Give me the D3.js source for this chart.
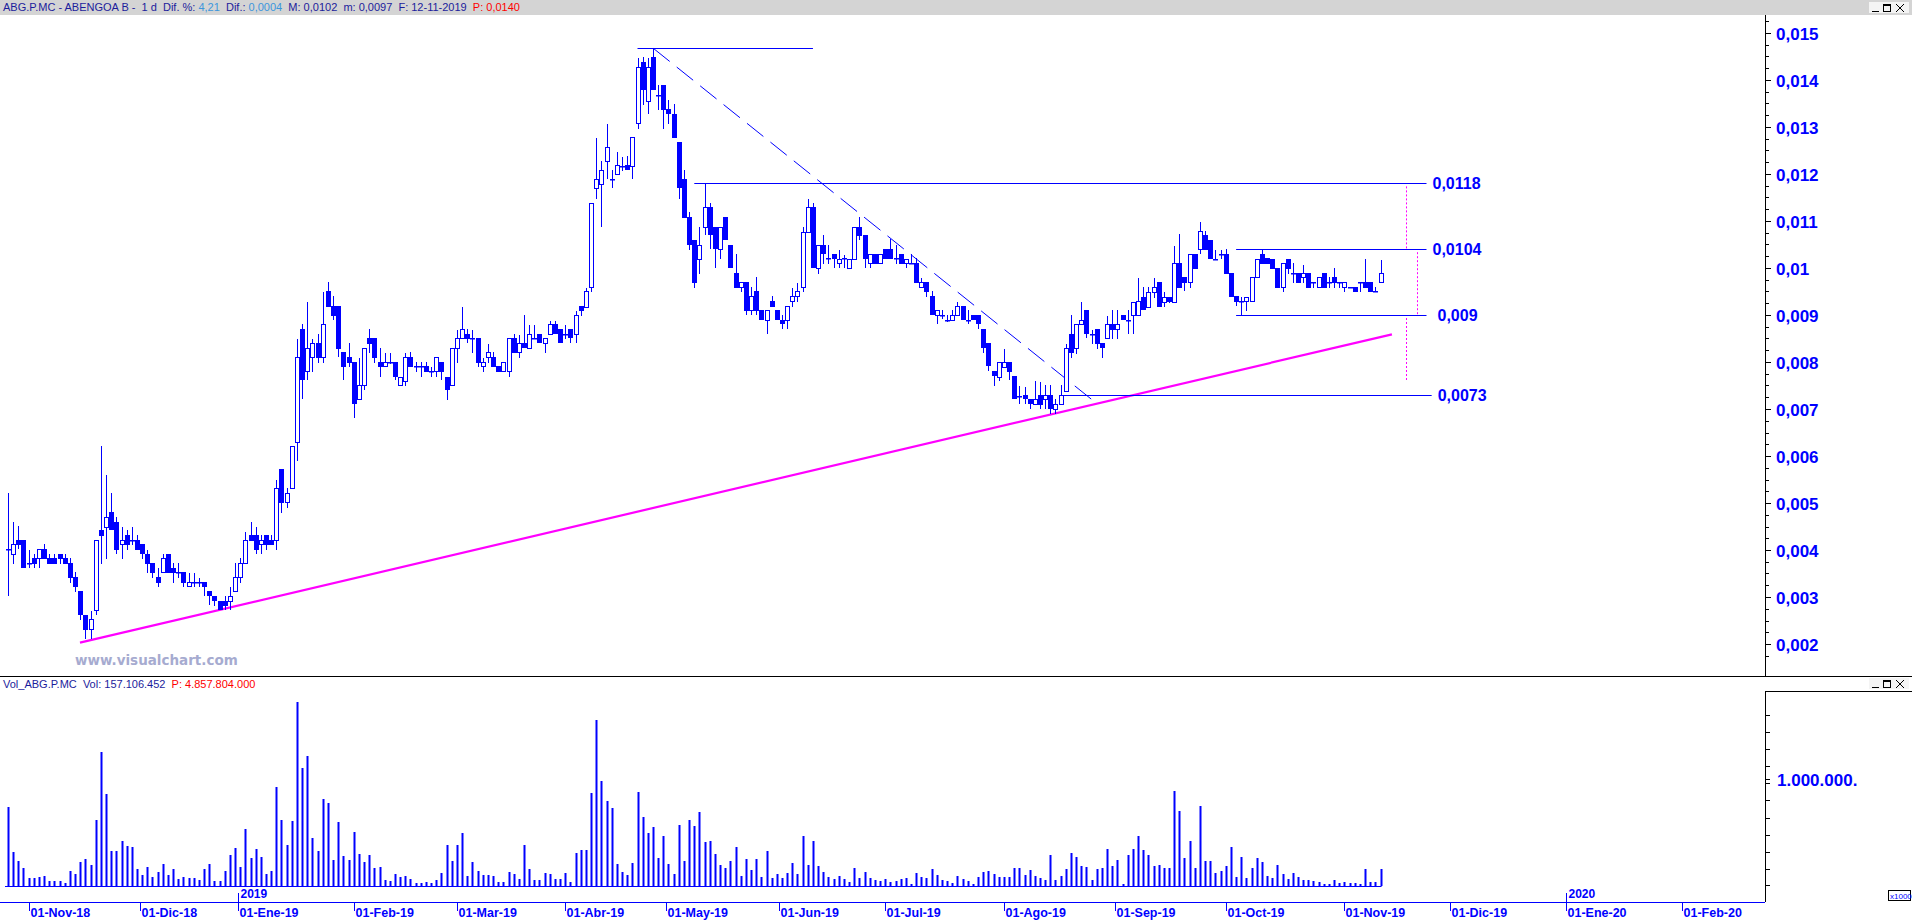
<!DOCTYPE html>
<html><head><meta charset="utf-8">
<script src="https://cdn.jsdelivr.net/npm/d3@7"></script>
<style>
html,body{margin:0;padding:0;background:#fff;overflow:hidden}
svg{display:block}
text{white-space:pre}
</style></head><body>
<svg id="c" width="1912" height="922"></svg>
<script>
// ---------------- DATA ----------------
const opens = [
.004014,.003908,.004205,.004205,.003716,.003822,.003822,.004014,.003822,.003822,
.003908,.003822,.003716,.003418,.003127,.002617,.002312,.002716,.004425,.004496,
.004801,.004603,.004120,.004312,.004205,.004205,.004120,.003908,.003716,.003432,
.003525,.003908,.003610,.003525,.003525,.003234,.003326,.003326,.003326,.003127,
.003021,.002915,.002915,.002915,.003127,.003418,.003716,.004312,.004312,.004120,
.004312,.004205,.004205,.005716,.005014,.005312,.006305,.008702,.007808,.008099,
.008397,.008099,.009510,.009191,.009191,.008205,.008099,.008000,.007206,.007504,
.008504,.008504,.007993,.007908,.007993,.007993,.007504,.007603,.008099,.007908,
.007908,.007908,.007816,.007809,.007993,.007688,.007504,.008291,.008504,.008596,
.008504,.008504,.007908,.008099,.008099,.007908,.007809,.007809,.008504,.008206,
.008397,.008291,.008504,.008596,.008397,.008596,.008802,.008702,.008596,.008702,
.008596,.009192,.009177,.009589,.011695,.011780,.012284,.011887,.011993,.012177,
.012191,.012177,.013078,.014376,.013560,.014482,.013681,.013894,.013383,.013277,
.012681,.011887,.011078,.010596,.010184,.010880,.011291,.010880,.010397,.011078,
.010489,.009887,.009589,.009695,.009106,.009511,.009106,.008894,.009298,.009106,
.008894,.008894,.009298,.009404,.009589,.010773,.011291,.010007,.010489,.010206,
.010298,.010099,.010206,.009993,.010184,.010880,.010702,.010099,.010291,.010099,
.010397,.010397,.010206,.010291,.010099,.010099,.010114,.009589,.009695,.009411,
.009000,.009000,.008894,.008894,.009000,.009192,.008894,.009000,.009000,.008702,
.008397,.007816,.007688,.007887,.007993,.007702,.007284,.007298,.007213,.007106,
.007298,.007206,.007298,.006993,.007106,.007390,.008589,.008291,.008801,.009106,
.008596,.008695,.008397,.008504,.008801,.008695,.009000,.008894,.009000,.009000,
.009390,.009177,.009496,.009709,.009284,.009390,.009284,.010099,.009801,.009695,
.010298,.010404,.010702,.010596,.010191,.010298,.010298,.009901,.009404,.009305,
.009298,.009298,.009801,.010298,.010206,.010184,.009993,.009589,.010184,.009901,
.009901,.009801,.009901,.009695,.009589,.009887,.009695,.009801,.009695,.009589,
.009589,.009589,.009695,.009695,.009695,.009518,.009695];
const highs = [
.005205,.004603,.004510,.004205,.004000,.003915,.004014,.004120,.003915,.003915,
.003908,.003915,.003822,.003525,.003127,.002617,.002702,.004205,.006213,.005596,
.005220,.004709,.004496,.004425,.004496,.004312,.004120,.004000,.003716,.003610,
.003908,.003908,.003716,.003716,.003525,.003503,.003503,.003397,.003326,.003127,
.003021,.002915,.003021,.003220,.003716,.003822,.004390,.004603,.004496,.004312,
.004312,.004312,.005489,.005716,.005312,.006213,.008489,.008808,.009269,.008489,
.008596,.009482,.009695,.009404,.009191,.008205,.008397,.008000,.008078,.008291,
.008702,.008504,.008291,.008184,.008184,.007993,.007688,.008184,.008206,.007993,
.007993,.007993,.007901,.008099,.007993,.007688,.008291,.008681,.009177,.008702,
.008681,.008504,.008078,.008383,.008206,.007908,.007993,.008504,.008596,.008575,
.009000,.008787,.008787,.008596,.008504,.008880,.008880,.008702,.008787,.008702,
.009085,.009192,.009568,.011376,.012773,.012277,.013057,.012085,.012461,.012369,
.012383,.012780,.014475,.014497,.014475,.014674,.013894,.013894,.013575,.013490,
.012681,.012085,.011199,.010596,.010880,.011787,.011390,.010880,.010880,.011078,
.010489,.010298,.009695,.009695,.009603,.009816,.009106,.009106,.009404,.009106,
.009000,.009192,.009568,.009674,.010865,.011468,.011390,.010489,.010702,.010489,
.010298,.010383,.010277,.010184,.010880,.011092,.010702,.010291,.010291,.010291,
.010397,.010610,.010489,.010291,.010184,.010298,.010206,.009794,.009695,.009511,
.009106,.009106,.009000,.009106,.009284,.009192,.009106,.009000,.009000,.008702,
.008397,.007816,.007993,.008270,.007993,.007702,.007489,.007475,.007213,.007603,
.007582,.007511,.007511,.007206,.007511,.008383,.009000,.008801,.009269,.009106,
.008681,.008695,.008397,.008979,.009106,.009106,.009000,.009106,.009269,.009780,
.009589,.009589,.009780,.009709,.009496,.009390,.010468,.010716,.009801,.010298,
.010298,.010972,.010787,.010596,.010383,.010383,.010397,.009901,.009404,.009390,
.009390,.009801,.010184,.010397,.010206,.010184,.009993,.010099,.010184,.010099,
.009901,.010064,.009901,.009695,.009801,.009887,.009801,.009993,.009695,.009695,
.009589,.009589,.009695,.010184,.009695,.009589,.010170];
const lows = [
.003042,.003730,.004035,.003631,.003631,.003631,.003631,.003837,.003730,.003730,
.003730,.003730,.003326,.003135,.002539,.002135,.002135,.002631,.003730,.003837,
.004440,.003929,.003837,.004028,.004120,.004028,.003837,.003525,.003432,.003234,
.003525,.003539,.003326,.003432,.003234,.003234,.003234,.003234,.003042,.002844,
.002830,.002737,.002737,.002737,.003127,.003326,.003716,.004205,.003929,.003929,
.004028,.004135,.004028,.004815,.004922,.005312,.005915,.007227,.007631,.007808,
.008007,.008007,.009198,.008908,.008127,.007631,.007915,.006823,.007206,.007419,
.008220,.008007,.007709,.007908,.007972,.007631,.007504,.007518,.007922,.007816,
.007709,.007816,.007709,.007709,.007631,.007220,.007504,.008007,.008504,.008419,
.008220,.007922,.007816,.008007,.007922,.007816,.007809,.007709,.008220,.008114,
.008312,.008291,.008504,.008419,.008220,.008596,.008610,.008419,.008504,.008419,
.008419,.009000,.009177,.009518,.011497,.010901,.011908,.011716,.011993,.012085,
.012099,.011908,.012986,.013490,.013291,.013802,.013383,.012986,.013092,.012794,
.011497,.011092,.010404,.009603,.009901,.010716,.010419,.010014,.010206,.010610,
.010014,.009603,.009518,.009014,.009014,.009014,.008908,.008610,.009199,.008908,
.008716,.008716,.009192,.009298,.009518,.010773,.010014,.009901,.010114,.010114,
.010014,.010014,.010014,.009993,.010184,.010610,.010014,.010014,.010114,.010099,
.010206,.010206,.010114,.010114,.010014,.010099,.009709,.009589,.009411,.009014,
.008823,.008929,.008880,.008894,.009000,.008908,.008823,.008908,.008716,.008220,
.007830,.007511,.007617,.007887,.007631,.007227,.007121,.007121,.007014,.007106,
.007014,.007014,.006908,.006908,.007106,.007390,.008113,.008199,.008801,.008525,
.008411,.008305,.008113,.008504,.008504,.008518,.008908,.008610,.008610,.009000,
.009121,.009177,.009390,.009199,.009192,.009284,.009284,.009603,.009532,.009603,
.010007,.010312,.010404,.010206,.010191,.010206,.009901,.009411,.009213,.009000,
.009106,.009298,.009801,.010113,.010113,.010007,.009603,.009518,.009901,.009709,
.009709,.009709,.009603,.009603,.009589,.009603,.009603,.009603,.009603,.009518,
.009589,.009518,.009518,.009603,.009518,.009518,.009695];
const closes = [
.004014,.004120,.004135,.003631,.003716,.003730,.004014,.003837,.003730,.003730,
.003837,.003730,.003432,.003234,.002631,.002326,.002525,.004205,.004319,.004709,
.004440,.004028,.004205,.004135,.004205,.004028,.003929,.003730,.003525,.003326,
.003822,.003539,.003539,.003525,.003326,.003326,.003326,.003326,.003234,.003035,
.002936,.002737,.002830,.003021,.003418,.003716,.004205,.004205,.004028,.004205,
.004135,.004135,.005312,.005028,.005220,.006213,.008099,.007631,.008291,.008397,
.008099,.008808,.009198,.009000,.008305,.007915,.008007,.007121,.007504,.008291,
.008411,.008114,.007922,.007993,.007993,.007709,.007688,.008099,.007922,.007908,
.007908,.007816,.007816,.008099,.007816,.007419,.008291,.008504,.008702,.008504,
.008504,.008007,.007993,.008206,.007922,.007816,.007993,.008504,.008220,.008397,
.008312,.008596,.008504,.008419,.008504,.008802,.008610,.008419,.008596,.008525,
.009000,.009107,.009511,.011376,.011887,.012085,.012582,.011887,.012191,.012177,
.012099,.012780,.014270,.013802,.014270,.013802,.013681,.013383,.013291,.012794,
.011716,.011092,.010504,.009709,.010489,.011291,.010716,.010419,.010880,.010610,
.010014,.009603,.009695,.009106,.009404,.009106,.008908,.009106,.009199,.008908,
.008823,.009192,.009404,.009511,.010773,.011291,.010014,.010489,.010312,.010206,
.010206,.010184,.010206,.010184,.010880,.010702,.010206,.010291,.010114,.010291,
.010206,.010206,.010206,.010114,.010184,.010099,.009709,.009695,.009511,.009014,
.009106,.009000,.008894,.009000,.009192,.008908,.008894,.008908,.008823,.008312,
.007936,.007723,.007993,.007993,.007816,.007227,.007284,.007227,.007121,.007213,
.007106,.007298,.007014,.007106,.007298,.008291,.008220,.008801,.008894,.008610,
.008596,.008411,.008312,.008801,.008695,.008801,.008908,.008894,.009269,.009298,
.009121,.009496,.009589,.009199,.009390,.009305,.010099,.009603,.009709,.010298,
.010007,.010787,.010404,.010206,.010191,.010298,.009901,.009411,.009305,.009305,
.009390,.009801,.010184,.010113,.010113,.010007,.009603,.010099,.010007,.009901,
.009709,.009887,.009603,.009695,.009801,.009603,.009695,.009709,.009695,.009695,
.009589,.009518,.009695,.009603,.009518,.009518,.009887];
// volume, axis units (x1000)
const volumes = [
741000,314600,233600,168200,71600,71600,81000,90300,46700,46700,
46700,28000,140200,112100,224300,252300,196200,616800,1252200,859700,
327100,327100,420500,373800,364500,158900,102800,177600,84100,130800,
205600,102800,158900,65400,84100,74800,74800,56100,158900,205600,
46700,46700,140200,289700,355100,177600,532700,261700,345800,271000,
112100,140200,925200,616800,383100,607400,1719500,1102700,1214900,448600,
327100,813000,775600,243000,598100,280400,243000,504600,299000,224300,
289700,168200,177600,56100,46700,112100,84100,93500,65400,28000,
28000,37400,28000,56100,121500,383100,233600,383100,495300,93500,
224300,140200,102800,102800,93500,37400,37400,130800,112100,65400,
383100,158900,56100,56100,121500,112100,65400,65400,121500,37400,
308400,336400,336400,869100,1551300,981200,794300,728900,205600,130800,
102800,214900,878400,644800,495300,551400,261700,467300,205600,112100,
570000,233600,616800,560700,691500,411200,420500,299000,196200,168200,
233600,364500,93500,252300,149500,252300,84100,327100,74800,112100,
74800,121500,214900,112100,467300,196200,420500,186900,130800,84100,
65400,93500,65400,37400,168200,74800,130800,74800,56100,46700,
65400,37400,46700,65400,74800,18700,121500,84100,74800,158900,
102800,56100,46700,28000,93500,65400,46700,18700,84100,130800,
140200,112100,84100,84100,84100,168200,168200,102800,149500,93500,
74800,56100,289700,56100,93500,158900,308400,271000,186900,177600,
56100,158900,168200,345800,186900,243000,18700,289700,345800,467300,
336400,289700,186900,196200,168200,168200,887800,700900,261700,420500,
168200,747600,233600,233600,121500,140200,186900,364500,84100,271000,
74800,168200,261700,224300,93500,74800,196200,112100,65400,121500,
84100,56100,56100,46700,37400,18700,18700,56100,28000,37400,
28000,28000,18700,158900,37400,37400,158900];
// x-axis (trading-day index of each month start)
const monthLabels = ["01-Nov-18","01-Dic-18","01-Ene-19","01-Feb-19","01-Mar-19","01-Abr-19","01-May-19","01-Jun-19","01-Jul-19","01-Ago-19","01-Sep-19","01-Oct-19","01-Nov-19","01-Dic-19","01-Ene-20","01-Feb-20"];
const monthIdx = [4,25.5,44.5,67,87,108,127.5,149.5,170,193,214.5,236,259,279.5,302,324.5];
const yearLabels = ["2019","2020"];
const yearIdx = [44.5,302];
const priceTicks = [0.002,0.003,0.004,0.005,0.006,0.007,0.008,0.009,0.010,0.011,0.012,0.013,0.014,0.015];
const volTickLabel = [1000000];
// drawn levels
const levelValues = [0.0118,0.0104,0.009,0.0073];
const levelLabels = ["0,0118","0,0104","0,009","0,0073"];
const levelFrom = [133,238,238,204];
const levelTo = [274.9,274.9,274.9,275.9];
const peakLine = {v:0.014674, from:122, to:156};
const supportLine = {i0:13.95, v0:0.002028, i1:268.2, v1:0.008589};
const downLine = {i0:125.06, v0:0.014674, i1:210.7, v1:0.007143};
const measureLines = [{i:271,v0:0.0118,v1:0.0104},{i:273.1,v0:0.0104,v1:0.009},{i:271,v0:0.009,v1:0.0076}];

// ---------------- DRAW ----------------
const svg = d3.select('#c');
const BLUE = '#0000ff', NAVY = '#1c1c9c', MAG = '#ff00ff';
const x = d3.scaleLinear().domain([0,340.5]).range([8,1765]);
const y = d3.scaleLinear().domain([0.002,0.015]).range([644,33]);
const yv = d3.scaleLinear().domain([0,1000000]).range([886,779]);
const px = v => Math.round(v) + 0.5;
const fmt = v => String(+v.toFixed(4)).replace('.', ',');

// header bar
svg.append('rect').attr('x',0).attr('y',0).attr('width',1912).attr('height',15).attr('fill','#d4d4d4');
const title = svg.append('text').attr('x',3).attr('y',11).attr('font-family','Liberation Sans, Arial, sans-serif').attr('font-size',11);
[["ABG.P.MC - ABENGOA B -  1 d  Dif. %: ",NAVY],["4,21",'#3c96dc'],["  Dif.: ",NAVY],["0,0004",'#3c96dc'],["  M: 0,0102  m: 0,0097  F: 12-11-2019  ",NAVY],["P: 0,0140",'#ff0000']]
 .forEach(([t,c]) => title.append('tspan').attr('fill',c).text(t));

function winButtons(y0){
  const g = svg.append('g').attr('stroke','#000').attr('fill','none').attr('stroke-width',1);
  g.append('rect').attr('x',1869).attr('y',y0-1).attr('width',40).attr('height',11).attr('fill','#f4f4f4').attr('stroke','none');
  g.append('line').attr('x1',1872).attr('x2',1879).attr('y1',y0+8.5).attr('y2',y0+8.5);
  g.append('rect').attr('x',1883.5).attr('y',y0+1.5).attr('width',7).attr('height',7);
  g.append('line').attr('x1',1883.5).attr('x2',1890.5).attr('y1',y0+2.5).attr('y2',y0+2.5);
  g.append('line').attr('x1',1896).attr('x2',1904).attr('y1',y0+1).attr('y2',y0+9);
  g.append('line').attr('x1',1904).attr('x2',1896).attr('y1',y0+1).attr('y2',y0+9);
}
winButtons(3);

// watermark
svg.append('text').attr('x',75).attr('y',665).attr('font-family','DejaVu Sans, Verdana, sans-serif').attr('font-weight','bold')
  .attr('font-size',13.5).attr('fill','#a6abd0').text('www.visualchart.com');

// clip for price panel
svg.append('clipPath').attr('id','pc').append('rect').attr('x',0).attr('y',15).attr('width',1765).attr('height',661);
const pg = svg.append('g').attr('clip-path','url(#pc)');

// support trend line (magenta)
pg.append('line').attr('x1',x(supportLine.i0)).attr('y1',y(supportLine.v0)).attr('x2',x(supportLine.i1)).attr('y2',y(supportLine.v1))
  .attr('stroke',MAG).attr('stroke-width',2.2);

// level lines
levelValues.forEach((v,k)=>{
  pg.append('line').attr('x1',x(levelFrom[k])).attr('x2',x(levelTo[k])).attr('y1',px(y(v))).attr('y2',px(y(v)))
    .attr('stroke',BLUE).attr('stroke-width',1);
});
pg.append('line').attr('x1',x(peakLine.from)).attr('x2',x(peakLine.to)).attr('y1',px(y(peakLine.v))).attr('y2',px(y(peakLine.v)))
  .attr('stroke',BLUE).attr('stroke-width',1);
// dashed down line
pg.append('line').attr('x1',x(downLine.i0)).attr('y1',y(downLine.v0)).attr('x2',x(downLine.i1)).attr('y2',y(downLine.v1))
  .attr('stroke',BLUE).attr('stroke-width',1).attr('stroke-dasharray','21,9');
// measure dotted lines
measureLines.forEach(m=>{
  pg.append('line').attr('x1',px(x(m.i))).attr('x2',px(x(m.i))).attr('y1',y(m.v0)+3).attr('y2',y(m.v1))
    .attr('stroke',MAG).attr('stroke-width',1).attr('stroke-dasharray','2,2');
});

// candles
const cg = pg.append('g');
opens.forEach((o,i)=>{
  const h = highs[i], l = lows[i], c = closes[i];
  const cx = px(x(i));
  cg.append('line').attr('x1',cx).attr('x2',cx).attr('y1',Math.round(y(h))).attr('y2',Math.round(y(l))+1)
    .attr('stroke',BLUE).attr('stroke-width',1);
  const yo = Math.round(y(o)), yc = Math.round(y(c));
  if (c > o) {
    cg.append('rect').attr('x',cx-2).attr('y',yc+0.5).attr('width',4).attr('height',Math.max(1,yo-yc))
      .attr('fill','#fff').attr('stroke',BLUE).attr('stroke-width',1);
  } else if (c < o) {
    cg.append('rect').attr('x',cx-2.5).attr('y',yo).attr('width',5).attr('height',Math.max(1,yc-yo+1))
      .attr('fill',BLUE);
  } else {
    cg.append('rect').attr('x',cx-2.5).attr('y',yo).attr('width',5).attr('height',1.5).attr('fill',BLUE);
  }
});

// level labels
const lblFont = 'Liberation Sans, Arial, sans-serif';
const lblOff = [6,6,11,6];
levelValues.forEach((v,k)=>{
  svg.append('text').attr('x',x(levelTo[k])+lblOff[k]).attr('y',y(v)+6).attr('font-family',lblFont).attr('font-weight','bold')
    .attr('font-size',16).attr('fill',BLUE).text(levelLabels[k]);
});

// price axis
svg.append('line').attr('x1',1765.5).attr('x2',1765.5).attr('y1',15).attr('y2',676).attr('stroke','#000');
const minorTicks = d3.range(0.00175,0.0154,0.00025);
svg.append('g').selectAll('line').data(minorTicks).join('line')
  .attr('x1',1765.5).attr('x2',1769).attr('y1',d=>px(y(d))).attr('y2',d=>px(y(d))).attr('stroke','#000');
svg.append('g').selectAll('line').data(priceTicks).join('line')
  .attr('x1',1765.5).attr('x2',1771).attr('y1',d=>px(y(d))).attr('y2',d=>px(y(d))).attr('stroke','#000');
svg.append('g').selectAll('text').data(priceTicks).join('text')
  .attr('x',1776).attr('y',d=>y(d)+6.5).attr('font-family',lblFont).attr('font-weight','bold').attr('font-size',17)
  .attr('fill',BLUE).text(d=>fmt(d));

// panel separator
svg.append('line').attr('x1',0).attr('x2',1912).attr('y1',676.5).attr('y2',676.5).attr('stroke','#000');

// volume panel
const vt = svg.append('text').attr('x',3).attr('y',688).attr('font-family','Liberation Sans, Arial, sans-serif').attr('font-size',11);
[["Vol_ABG.P.MC  Vol: 157.106.452  ",NAVY],["P: 4.857.804.000",'#ff0000']].forEach(([t,c])=>vt.append('tspan').attr('fill',c).text(t));
winButtons(679);

svg.append('g').selectAll('rect').data(volumes).join('rect')
  .attr('x',(d,i)=>Math.round(x(i))-0.5).attr('width',2)
  .attr('y',d=>Math.round(yv(d))).attr('height',d=>886-Math.round(yv(d)))
  .attr('fill',BLUE);
svg.append('line').attr('x1',x(0)-3).attr('x2',x(volumes.length-1)+1).attr('y1',886.5).attr('y2',886.5).attr('stroke',BLUE);

// volume axis
svg.append('line').attr('x1',1765.5).attr('x2',1765.5).attr('y1',691.5).attr('y2',902).attr('stroke','#000');
svg.append('line').attr('x1',1765).attr('x2',1912).attr('y1',691.5).attr('y2',691.5).attr('stroke','#000');
const volMinor = d3.range(0,1700000,160000).concat([1000000]);
svg.append('g').selectAll('line').data(volMinor.filter(d=>d>0)).join('line')
  .attr('x1',1765.5).attr('x2',1770).attr('y1',d=>px(yv(d))).attr('y2',d=>px(yv(d))).attr('stroke','#000');
svg.append('line').attr('x1',1765.5).attr('x2',1770).attr('y1',885.5).attr('y2',885.5).attr('stroke','#000');
svg.append('g').selectAll('text').data(volTickLabel).join('text')
  .attr('x',1777).attr('y',d=>yv(d)+6.5).attr('font-family',lblFont).attr('font-weight','bold').attr('font-size',17)
  .attr('fill',BLUE).text(d=>d3.format(',')(d).replace(/,/g,'.')+'.');
svg.append('rect').attr('x',1888.5).attr('y',890.5).attr('width',22).attr('height',10).attr('fill','#fff').attr('stroke','#000');
svg.append('text').attr('x',1890).attr('y',898.5).attr('font-family','Liberation Sans, Arial, sans-serif').attr('font-size',8)
  .attr('fill',BLUE).text('x1000');

// date axis
svg.append('line').attr('x1',0).attr('x2',1765).attr('y1',902.5).attr('y2',902.5).attr('stroke',BLUE);
monthIdx.forEach((m,k)=>{
  const xx = px(x(m));
  svg.append('line').attr('x1',xx).attr('x2',xx).attr('y1',902).attr('y2',911).attr('stroke',BLUE);
  svg.append('text').attr('x',xx+1).attr('y',917).attr('font-family',lblFont).attr('font-weight','bold').attr('font-size',12.5)
    .attr('fill',BLUE).text(monthLabels[k]);
});
yearIdx.forEach((m,k)=>{
  const xx = px(x(m));
  svg.append('line').attr('x1',xx).attr('x2',xx).attr('y1',893).attr('y2',902).attr('stroke',BLUE);
  svg.append('text').attr('x',xx+2).attr('y',898).attr('font-family',lblFont).attr('font-weight','bold').attr('font-size',12)
    .attr('fill',BLUE).text(yearLabels[k]);
});
</script>
</body></html>
